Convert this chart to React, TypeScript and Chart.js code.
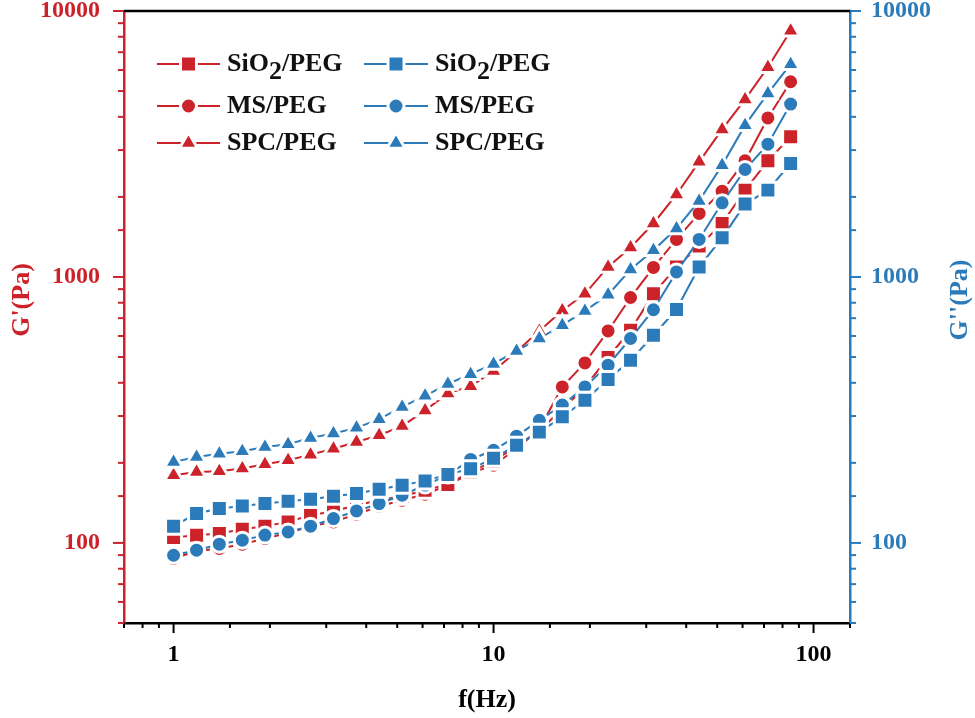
import React, { useEffect, useRef } from "react";
import { Chart, registerables } from "chart.js";

Chart.register(...registerables);

// Frequencies (Hz)
const FREQ = [1, 1.18, 1.39, 1.64, 1.93, 2.28, 2.68, 3.16, 3.73, 4.39, 5.18, 6.11, 7.2, 8.48, 10, 11.8, 13.9, 16.4, 19.3, 22.8, 26.8, 31.6, 37.3, 43.9, 51.8, 61.1, 72, 84.8];

// G' (Pa) - left axis, red
const GP_SIO2 = [104.8, 106.9, 108.5, 112.6, 115.6, 120, 127, 131.5, 138.6, 144.7, 149.8, 157.8, 166, 185, 203, 231, 265, 318, 385, 498, 631, 864, 1091, 1306, 1589, 2121, 2733, 3365];
const GP_MS = [87.4, 93.3, 95.3, 98.9, 103.9, 109, 115.6, 120, 128.2, 137.4, 144.7, 152.4, 164.8, 183, 196, 226, 268, 386, 475, 627, 837, 1086, 1384, 1733, 2102, 2733, 3963, 5420];
const GP_SPC = [179.8, 184.8, 186, 190.5, 197.7, 204.6, 214.8, 226, 239.5, 254, 275, 315, 365, 388, 443, 525, 627, 748, 864, 1091, 1291, 1589, 2043, 2709, 3586, 4652, 6143, 8435];

// G'' (Pa) - right axis, blue
const GPP_SIO2 = [115.6, 129, 134.7, 137.7, 140.6, 143.5, 146, 149.8, 153.4, 159.2, 164.8, 171.1, 181, 190, 208, 233, 261, 298, 344, 412, 486, 604, 755, 1091, 1403, 1879, 2121, 2673];
const GPP_MS = [89.9, 93.9, 98.9, 102.4, 107, 110, 115.6, 123.5, 131.9, 140.6, 151.1, 165, 180, 206, 223, 252, 289, 330, 386, 466, 587, 753, 1045, 1384, 1900, 2535, 3157, 4467];
const GPP_SPC = [201.7, 210.5, 216.6, 221.3, 229.5, 235, 248.3, 257.8, 270.8, 292, 324.6, 357.4, 396, 431, 471, 527, 587, 659, 745, 858, 1067, 1261, 1521, 1932, 2632, 3722, 4898, 6310];

const LABELS = ["SiO2/PEG", "MS/PEG", "SPC/PEG"];

const RED = "#CC2229";
const BLUE = "#2B7BBA";
const FONT = '"Liberation Serif", "Times New Roman", serif';

const HALO = 3;
const STYLES = [
  { style: "rect", radius: 11.3 },
  { style: "circle", radius: 8 },
  { style: "triangle", radius: 10.5 },
];

const isPow10 = (v: number) => {
  const l = Math.log10(v);
  return Math.abs(l - Math.round(l)) < 1e-6;
};

const pts = (ys: number[]) => ys.map((y, i) => ({ x: FREQ[i], y }));

function drawMarker(ctx: CanvasRenderingContext2D, style: string, r: number, x: number, y: number, color: string) {
  ctx.save();
  ctx.fillStyle = color;
  ctx.strokeStyle = "#fff";
  ctx.lineWidth = HALO;
  ctx.beginPath();
  if (style === "rect") {
    const s = Math.SQRT1_2 * r;
    ctx.rect(x - s, y - s, 2 * s, 2 * s);
  } else if (style === "circle") {
    ctx.arc(x, y, r, 0, Math.PI * 2);
  } else {
    let rad = 0;
    ctx.moveTo(x + Math.sin(rad) * r, y - Math.cos(rad) * r);
    rad += (2 * Math.PI) / 3;
    ctx.lineTo(x + Math.sin(rad) * r, y - Math.cos(rad) * r);
    rad += (2 * Math.PI) / 3;
    ctx.lineTo(x + Math.sin(rad) * r, y - Math.cos(rad) * r);
    ctx.closePath();
  }
  ctx.fill();
  ctx.stroke();
  ctx.restore();
}

const overlay = {
  id: "overlay",
  afterDraw(chart: any) {
    const ctx: CanvasRenderingContext2D = chart.ctx;
    const { left, right, top, bottom } = chart.chartArea;
    const xs = chart.scales.x;
    const yL = chart.scales.yL;
    const yR = chart.scales.yR;
    ctx.save();
    // top frame line
    ctx.strokeStyle = "#000";
    ctx.lineWidth = 2.5;
    ctx.beginPath();
    ctx.moveTo(left, top);
    ctx.lineTo(right + 1, top);
    ctx.stroke();

    // x ticks
    ctx.lineWidth = 2;
    ctx.strokeStyle = "#000";
    for (const t of xs.ticks) {
      const px = xs.getPixelForValue(t.value);
      const len = isPow10(t.value) ? 10 : 5;
      ctx.beginPath();
      ctx.moveTo(px, bottom);
      ctx.lineTo(px, bottom + len);
      ctx.stroke();
    }
    // left ticks
    ctx.strokeStyle = RED;
    for (const t of yL.ticks) {
      const py = yL.getPixelForValue(t.value);
      const len = isPow10(t.value) ? 11 : 6;
      ctx.beginPath();
      ctx.moveTo(left, py);
      ctx.lineTo(left - len, py);
      ctx.stroke();
    }
    // right ticks
    ctx.strokeStyle = BLUE;
    for (const t of yR.ticks) {
      const py = yR.getPixelForValue(t.value);
      const len = isPow10(t.value) ? 11 : 6;
      ctx.beginPath();
      ctx.moveTo(right, py);
      ctx.lineTo(right + len, py);
      ctx.stroke();
    }

    // axis titles
    ctx.font = `bold 26px ${FONT}`;
    ctx.textAlign = "center";
    ctx.textBaseline = "middle";
    ctx.fillStyle = "#000";
    ctx.fillText("f(Hz)", (left + right) / 2, 700);

    ctx.save();
    ctx.translate(22, 300);
    ctx.rotate(-Math.PI / 2);
    ctx.fillStyle = RED;
    ctx.fillText("G'(Pa)", 0, 0);
    ctx.restore();

    ctx.save();
    ctx.translate(960, 300);
    ctx.rotate(-Math.PI / 2);
    ctx.fillStyle = BLUE;
    ctx.fillText("G''(Pa)", 0, 0);
    ctx.restore();

    // legend
    const rows = [64, 106, 143];
    const cols = [
      { x1: 157, x2: 220, tx: 227, color: RED },
      { x1: 364, x2: 428, tx: 435, color: BLUE },
    ];
    cols.forEach((c) => {
      LABELS.forEach((lab, i) => {
        const y = rows[i];
        ctx.strokeStyle = c.color;
        ctx.lineWidth = 2;
        ctx.beginPath();
        ctx.moveTo(c.x1, y);
        ctx.lineTo(c.x2, y);
        ctx.stroke();
        drawMarker(ctx, STYLES[i].style, STYLES[i].radius, (c.x1 + c.x2) / 2, y, c.color);
        ctx.fillStyle = "#111";
        ctx.textAlign = "left";
        ctx.textBaseline = "middle";
        ctx.font = `bold 26px ${FONT}`;
        if (lab.startsWith("SiO2")) {
          let x = c.tx;
          ctx.fillText("SiO", x, y);
          x += ctx.measureText("SiO").width;
          ctx.fillText("2", x, y + 8);
          x += ctx.measureText("2").width;
          ctx.fillText("/PEG", x, y);
        } else {
          ctx.fillText(lab, c.tx, y);
        }
      });
    });
    ctx.restore();
  },
};

export default function App() {
  const ref = useRef<HTMLCanvasElement>(null);
  useEffect(() => {
    document.body.style.margin = "0";
    const mk = (label: string, data: number[], color: string, axis: string, idx: number, order: number) => ({
      label,
      data: pts(data),
      yAxisID: axis,
      borderColor: color,
      backgroundColor: color,
      borderWidth: 2,
      pointStyle: STYLES[idx].style,
      pointRadius: STYLES[idx].radius,
      pointBorderColor: "#fff",
      pointBorderWidth: HALO,
      pointBackgroundColor: color,
      tension: 0,
      order,
    });
    const tickFont = { family: FONT, size: 24, weight: "bold" as const };
    const labelCb = (v: any) => (isPow10(Number(v)) ? String(Math.round(Number(v))) : "");
    const chart = new Chart(ref.current!, {
      type: "line",
      data: {
        datasets: [
          mk("SiO2/PEG", GP_SIO2, RED, "yL", 0, 1),
          mk("MS/PEG", GP_MS, RED, "yL", 1, 1),
          mk("SPC/PEG", GP_SPC, RED, "yL", 2, 1),
          mk("SiO2/PEG", GPP_SIO2, BLUE, "yR", 0, 0),
          mk("MS/PEG", GPP_MS, BLUE, "yR", 1, 0),
          mk("SPC/PEG", GPP_SPC, BLUE, "yR", 2, 0),
        ] as any,
      },
      options: {
        animation: false,
        responsive: false,
        devicePixelRatio: 1,
        layout: { autoPadding: false, padding: { top: 11, left: 0, right: 0, bottom: 0 } },
        plugins: { legend: { display: false }, tooltip: { enabled: false } },
        scales: {
          x: {
            type: "logarithmic",
            position: "bottom",
            min: 0.7,
            max: 130,
            grid: { display: false, drawTicks: false },
            border: { display: true, color: "#000", width: 2.5 },
            ticks: { autoSkip: false, maxRotation: 0, padding: 17, color: "#000", font: tickFont, callback: labelCb },
            afterFit: (s: any) => {
              s.height = 95;
              s.paddingLeft = 0;
              s.paddingRight = 0;
            },
          },
          yL: {
            type: "logarithmic",
            position: "left",
            min: 50,
            max: 10000,
            grid: { display: false, drawTicks: false },
            border: { display: true, color: RED, width: 2.5 },
            ticks: { autoSkip: false, padding: 24, color: RED, font: tickFont, callback: labelCb },
            afterFit: (s: any) => {
              s.width = 124;
              s.paddingTop = 0;
              s.paddingBottom = 0;
            },
          },
          yR: {
            type: "logarithmic",
            position: "right",
            min: 50,
            max: 10000,
            grid: { display: false, drawTicks: false },
            border: { display: true, color: BLUE, width: 2.5 },
            ticks: { autoSkip: false, padding: 21, color: BLUE, font: tickFont, callback: labelCb },
            afterFit: (s: any) => {
              s.width = 125;
              s.paddingTop = 0;
              s.paddingBottom = 0;
            },
          },
        },
      } as any,
      plugins: [overlay],
    });
    return () => chart.destroy();
  }, []);
  return (
    <div style={{ width: 975, height: 718, background: "#fff" }}>
      <canvas ref={ref} width={975} height={718} style={{ display: "block", width: 975, height: 718 }} />
    </div>
  );
}
